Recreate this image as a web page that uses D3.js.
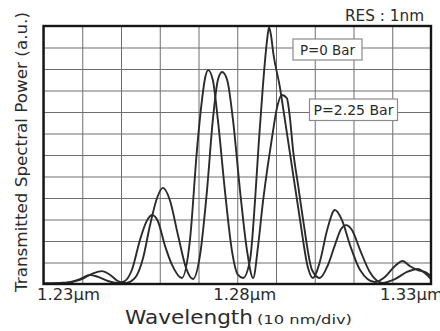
<!DOCTYPE html>
<html>
<head>
<meta charset="utf-8">
<script src="https://cdn.jsdelivr.net/npm/d3@7"></script>
<style>
  html, body { margin: 0; padding: 0; background: #fff; }
  svg { display: block; }
  text { font-family: "DejaVu Sans", sans-serif; fill: #2a2a2a; }
</style>
</head>
<body>
<script>
// ---- data (wavelength in nm, power in a.u. = grid divisions) ----
const seriesNames = ["P=0 Bar", "P=2.25 Bar"];
const wlP0 = [1230.0,1234.3,1236.8,1239.4,1242.0,1244.1,1246.6,1249.2,1251.0,1252.8,1254.9,1256.5,1258.0,1259.5,1261.3,1263.2,1265.7,1267.8,1269.6,1270.9,1271.7,1272.5,1273.7,1275.0,1276.8,1278.6,1280.2,1281.5,1283.3,1284.6,1285.6,1286.6,1287.7,1288.2,1288.7,1289.3,1291.0,1292.3,1293.6,1296.2,1298.2,1299.5,1301.3,1303.2,1305.2,1307.0,1309.1,1311.7,1315.5,1318.1,1320.7,1322.7,1324.5,1326.6,1328.4,1330.0];
const pwP0 = [0.02,0.05,0.09,0.23,0.42,0.33,0.14,0.05,0.14,0.65,2.05,2.88,3.21,2.93,1.81,0.88,0.28,2.05,6.23,8.56,9.58,9.95,9.49,7.63,4.37,1.58,0.42,0.28,1.12,3.91,6.70,9.16,11.35,11.95,11.58,10.74,9.16,7.63,6.09,2.98,0.79,0.28,1.02,2.51,3.44,2.98,1.81,0.65,0.09,0.33,0.84,1.07,0.84,0.65,0.56,0.37];
const wlP225 = [1230.0,1235.5,1239.4,1242.5,1245.1,1247.2,1249.2,1251.3,1253.6,1255.7,1257.5,1259.3,1260.8,1262.6,1264.7,1266.8,1268.6,1270.4,1272.2,1273.7,1275.0,1276.1,1277.4,1278.9,1280.7,1282.5,1284.1,1285.4,1286.6,1287.9,1289.0,1290.3,1291.5,1292.8,1293.6,1294.4,1295.7,1297.0,1299.3,1301.3,1303.4,1305.2,1306.8,1308.1,1309.6,1311.7,1314.2,1317.5,1320.7,1323.8,1326.6,1328.4,1330.0];
const pwP225 = [0.02,0.05,0.19,0.47,0.60,0.42,0.14,0.05,0.28,1.21,2.74,4.00,4.47,3.91,2.28,0.74,0.23,1.35,4.37,7.63,9.49,9.86,9.49,7.63,4.37,1.58,0.28,1.81,3.77,5.53,6.84,8.23,8.79,8.65,7.72,6.23,4.60,2.98,0.65,0.28,0.88,1.81,2.56,2.74,2.51,1.58,0.56,0.05,0.23,0.56,0.70,0.51,0.23];
const xTickValues = [1230, 1280, 1330];
const xTickLabels = ["1.23\u00b5m", "1.28\u00b5m", "1.33\u00b5m"];
const resLabel = "RES : 1nm";
const xTitle = "Wavelength";
const xTitleSub = "(10 nm/div)";
const yTitle = "Transmitted Spectral Power (a.u.)";

// ---- layout ----
const W = 440, H = 331;
const L = 43.5, R = 431, T = 26, B = 284;
const svg = d3.select("body").append("svg").attr("width", W).attr("height", H);

const x = d3.scaleLinear().domain([1230, 1330]).range([L, R]);
const y = d3.scaleLinear().domain([0, 12]).range([B, T]);

// grid
const gGrid = svg.append("g");
gGrid.call(d3.axisBottom(x).tickValues(d3.range(1230, 1331, 10)).tickSize(-(B - T)).tickFormat(""))
  .attr("transform", `translate(0,${B})`);
gGrid.selectAll(".tick line").attr("stroke", "#6e6e6e").attr("stroke-width", 1);
gGrid.select(".domain").remove();
const gGridY = svg.append("g").attr("transform", `translate(${L},0)`);
gGridY.call(d3.axisLeft(y).tickValues(d3.range(0, 13, 1)).tickSize(-(R - L)).tickFormat(""));
gGridY.selectAll(".tick line").attr("stroke", "#6e6e6e").attr("stroke-width", 1);
gGridY.select(".domain").remove();

// curves
const line = d3.line().x(d => x(d[0])).y(d => y(d[1])).curve(d3.curveMonotoneX);
const s1 = wlP0.map((w, i) => [w, pwP0[i]]);
const s2 = wlP225.map((w, i) => [w, pwP225[i]]);
[s1, s2].forEach(s => {
  svg.append("path").datum(s).attr("d", line)
    .attr("fill", "none").attr("stroke", "#2b2b2b").attr("stroke-width", 1.9)
    .attr("stroke-linejoin", "round");
});

// frame
svg.append("rect").attr("x", L).attr("y", T).attr("width", R - L).attr("height", B - T)
  .attr("fill", "none").attr("stroke", "#151515").attr("stroke-width", 2.4);

// series label boxes
const boxes = [
  { t: seriesNames[0], x: 293, y: 39, w: 69, h: 21, tl: 55 },
  { t: seriesNames[1], x: 309.5, y: 99, w: 88, h: 21.5, tl: 80 }
];
boxes.forEach(b => {
  svg.append("rect").attr("x", b.x).attr("y", b.y).attr("width", b.w).attr("height", b.h)
    .attr("fill", "#fff").attr("stroke", "#8a8a8a").attr("stroke-width", 1.2);
  svg.append("text").attr("x", b.x + b.w / 2).attr("y", b.y + b.h / 2 + 5)
    .attr("text-anchor", "middle").attr("font-size", 14)
    .attr("textLength", b.tl).attr("lengthAdjust", "spacingAndGlyphs").text(b.t);
});

// RES label
svg.append("text").attr("x", 345).attr("y", 20.5).attr("font-size", 16)
  .attr("textLength", 79).attr("lengthAdjust", "spacingAndGlyphs").text(resLabel);

// x tick labels
const tickLayout = [
  { anchor: "start", dx: -6.5 },
  { anchor: "start", dx: -24 },
  { anchor: "start", dx: -51 }
];
xTickValues.forEach((v, i) => {
  svg.append("text").attr("x", x(v) + tickLayout[i].dx).attr("y", 300)
    .attr("font-size", 15).attr("textLength", 63).attr("lengthAdjust", "spacingAndGlyphs")
    .text(xTickLabels[i]);
});

// x title
svg.append("text").attr("x", 125).attr("y", 323.5).attr("font-size", 20)
  .attr("textLength", 128).attr("lengthAdjust", "spacingAndGlyphs").text(xTitle);
svg.append("text").attr("x", 257).attr("y", 323.5).attr("font-size", 13)
  .attr("textLength", 95).attr("lengthAdjust", "spacingAndGlyphs").text(xTitleSub);

// y title
svg.append("text").attr("transform", "translate(26.5,152) rotate(-90)")
  .attr("text-anchor", "middle").attr("font-size", 16)
  .attr("textLength", 280).attr("lengthAdjust", "spacingAndGlyphs").text(yTitle);
</script>
</body>
</html>
